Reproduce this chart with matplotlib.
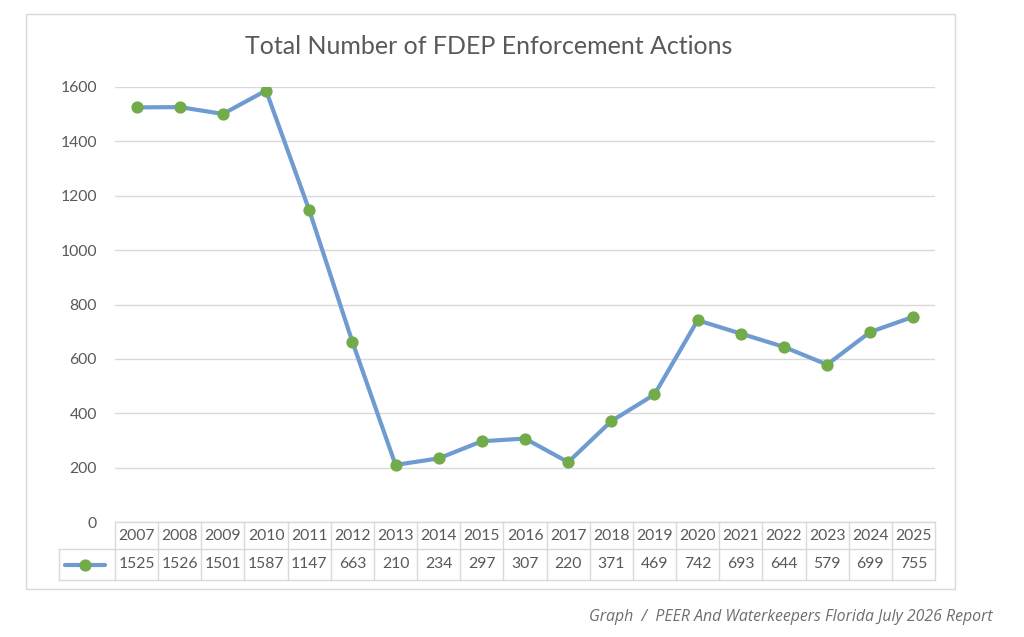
import matplotlib
matplotlib.use("Agg")
import matplotlib.pyplot as plt
from matplotlib.lines import Line2D
from matplotlib.patches import Rectangle
import matplotlib.transforms as mtransforms

years = ["2007", "2008", "2009", "2010", "2011", "2012", "2013", "2014", "2015", "2016",
         "2017", "2018", "2019", "2020", "2021", "2022", "2023", "2024", "2025"]
actions = [1525, 1526, 1501, 1587, 1147, 663, 210, 234, 297, 307,
           220, 371, 469, 742, 693, 644, 579, 699, 755]
yticks = [0, 200, 400, 600, 800, 1000, 1200, 1400, 1600]
title = "Total Number of FDEP Enforcement Actions"
caption = "Graph  /  PEER And Waterkeepers Florida July 2026 Report"

plt.rcParams['font.family'] = ['Lato', 'DejaVu Sans']

W, H = 1024, 637
fig = plt.figure(figsize=(W / 100, H / 100), dpi=100)
fig.patch.set_facecolor("white")

def fx(px):
    return px / W

def fy(py):
    return 1 - py / H

LINE_C = "#6F9BD1"
MARK_C = "#72AB4A"
GRID_C = "#D9D9D9"
TEXT_C = "#595959"
LW = 3.0
MS = 7.8
FS = 11.3

# chart border
fig.add_artist(Rectangle((fx(26), fy(589)), fx(955) - fx(26), fy(14) - fy(589),
                         transform=fig.transFigure, fill=False, edgecolor="#D9D9D9", lw=1.0))

left, right, top, bottom = 115, 935, 87, 522
ax = fig.add_axes([fx(left), fy(bottom), fx(right) - fx(left), fy(top) - fy(bottom)])
n = len(years)
x = list(range(n))
ax.set_xlim(-0.5, n - 0.5)
ax.set_ylim(0, 1600)
ax.set_yticks(yticks)
ax.set_yticklabels([str(v) for v in yticks])
ax.tick_params(axis='y', length=0, pad=13, labelsize=FS, labelcolor=TEXT_C)
ax.set_xticks([])
for s in ax.spines.values():
    s.set_visible(False)
ax.grid(axis='y', color=GRID_C, lw=1.0)
ax.set_axisbelow(True)
ax.plot(x, actions, color=LINE_C, lw=LW, marker='o', markersize=MS,
        markerfacecolor=MARK_C, markeredgecolor=MARK_C, solid_capstyle='round',
        solid_joinstyle='round', zorder=3)

fig.text(fx(489), fy(47), title, ha='center', va='center', fontsize=18, color=TEXT_C)

# data table below axes
axh = bottom - top
def ay(py):
    return (bottom - py) / axh

trans = mtransforms.blended_transform_factory(ax.transData, ax.transAxes)
colw = (right - left) / n
leg_left = -0.5 - (left - 59) / colw
row1_top, row1_bot, row2_bot = 522, 549, 580
tl = dict(color=GRID_C, lw=1.0, transform=trans, clip_on=False)
ax.add_line(Line2D([-0.5, n - 0.5], [ay(row1_top)] * 2, **tl))
ax.add_line(Line2D([leg_left, n - 0.5], [ay(row1_bot)] * 2, **tl))
ax.add_line(Line2D([leg_left, n - 0.5], [ay(row2_bot)] * 2, **tl))
ax.add_line(Line2D([leg_left, leg_left], [ay(row1_bot), ay(row2_bot)], **tl))
for i in range(n + 1):
    ax.add_line(Line2D([i - 0.5, i - 0.5], [ay(row1_top), ay(row2_bot)], **tl))
for i, (yr, v) in enumerate(zip(years, actions)):
    ax.text(i, ay((row1_top + row1_bot) / 2), yr, ha='center', va='center',
            fontsize=FS, color=TEXT_C, transform=trans, clip_on=False)
    ax.text(i, ay((row1_bot + row2_bot) / 2), str(v), ha='center', va='center',
            fontsize=FS, color=TEXT_C, transform=trans, clip_on=False)
# legend key in table
ly = ay((row1_bot + row2_bot) / 2)
lx0 = leg_left + (65 - 59) / colw
lx1 = leg_left + (105 - 59) / colw
ax.add_line(Line2D([lx0, lx1], [ly, ly], color=LINE_C, lw=LW, transform=trans,
                   clip_on=False, solid_capstyle='round'))
ax.add_line(Line2D([(lx0 + lx1) / 2], [ly], marker='o', markersize=MS, color=MARK_C,
                   transform=trans, clip_on=False, linestyle='none'))

fig.text(fx(993), fy(617), caption, ha='right', va='center', fontsize=11.4,
         style='italic', color="#6E6E6E", family=['Open Sans', 'DejaVu Sans'])

fig.savefig("out.png", dpi=100, facecolor="white")
